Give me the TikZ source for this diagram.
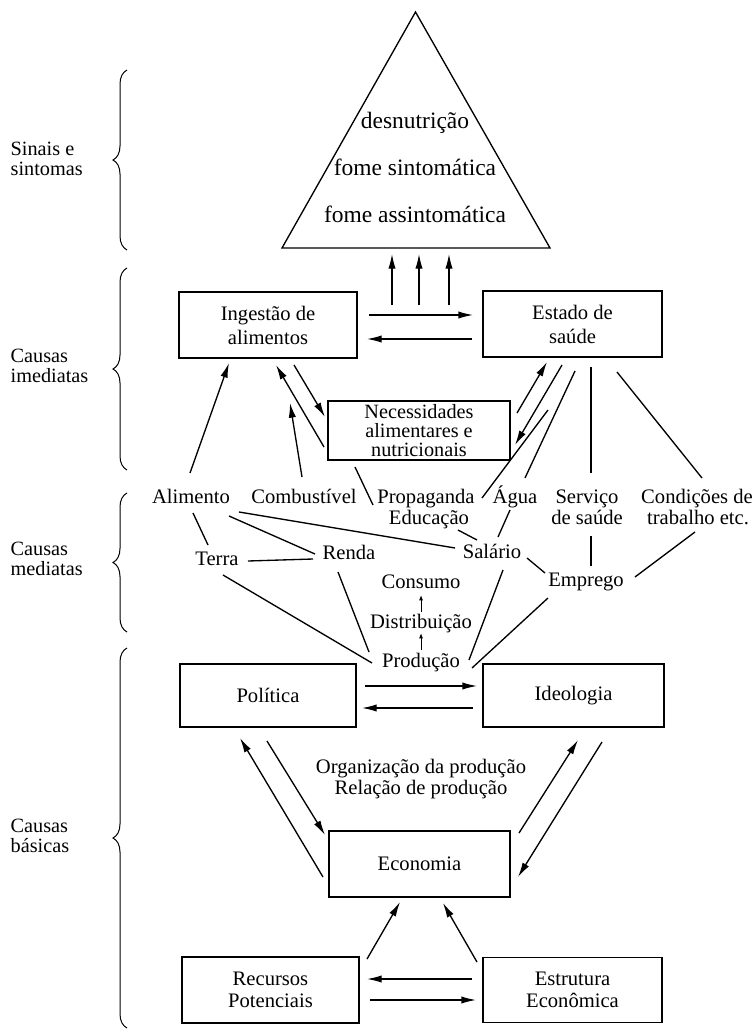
\documentclass[tikz,border=0pt]{standalone}
\usepackage{fontspec}
\setmainfont{Liberation Serif}
\usetikzlibrary{arrows.meta,decorations.pathreplacing}
\newcommand{\tightlines}{\lineskiplimit=-100pt\relax}

\begin{document}
\begin{tikzpicture}[x=0.75pt,y=-0.75pt,
  line width=1pt,
  box/.style={draw, line width=1pt, align=center, inner sep=0pt,
    font=\fontsize{15.45}{18}\selectfont},
  lbl/.style={anchor=base, inner sep=0pt, font=\fontsize{15.45}{18}\selectfont},
  tritext/.style={anchor=base, inner sep=0pt, font=\fontsize{17.6}{20}\selectfont},
  side/.style={anchor=base west, inner sep=0pt, font=\fontsize{15.2}{18}\selectfont},
  arr/.style={-{Latex[length=11pt,width=5.5pt]}},
  tinyarr/.style={-{Latex[length=4pt,width=3pt]}, line width=0.75pt},
  curly/.style={decorate, decoration={brace, amplitude=10.5pt}, line width=0.75pt},
]
\useasboundingbox (0,0) rectangle (755,1032);

% ---- level labels and braces
\node[side] (s1a) at (10,155) {Sinais e};
\node[side] (s1b) at (10,175) {sintomas};
\node[side] (s2a) at (10,362) {Causas};
\node[side] (s2b) at (10,382) {imediatas};
\node[side] (s3a) at (10,555.5) {Causas};
\node[side] (s3b) at (10,575.5) {mediatas};
\node[side] (s4a) at (10,832) {Causas};
\node[side] (s4b) at (10,852) {básicas};

\draw[curly] (127,250) -- (127,70);
\draw[curly] (127,470) -- (127,268);
\draw[curly] (127,632) -- (127,493);
\draw[curly] (127,1028) -- (127,648);

% ---- triangle of signs and symptoms
\coordinate (apex) at (415.5,12);
\coordinate (bl) at (282,248);
\coordinate (br) at (550,248);
\coordinate (tb) at (415.5,248);
\draw[line width=1pt] (apex) -- (br) -- (bl) -- cycle;
\node[tritext] (des) at (415,128.5) {desnutrição};
\node[tritext] (fs) at (415,175.5) {fome sintomática};
\node[tritext] (fa) at (415,222.5) {fome assintomática};

\draw[arr] ([shift={(-23.5,57)}]tb) -- ([shift={(-23.5,6)}]tb);
\draw[arr] ([shift={(3.5,57)}]tb) -- ([shift={(3.5,6)}]tb);
\draw[arr] ([shift={(33.5,57)}]tb) -- ([shift={(33.5,6)}]tb);

% ---- immediate causes
\node[box, minimum width=133.5pt, minimum height=49.5pt] (ing) at (268,325) {Ingestão de\\alimentos};
\node[box, minimum width=134.25pt, minimum height=49.5pt] (est) at (572.5,324) {Estado de\\saúde};
\node[box, font=\fontsize{15.2}{14}\selectfont\tightlines,
  minimum width=136.5pt, minimum height=44.25pt] (nec) at (419,430.5)
  {Necessidades\\alimentares e\\nutricionais};

\draw[arr] ([shift={(101,-10)}]ing.center) -- ([shift={(-99.5,-9)}]est.center);
\draw[arr] ([shift={(-100.5,15)}]est.center) -- ([shift={(99,14)}]ing.center);

% ---- mediate causes
\node[lbl] (alim) at (191,503) {Alimento};
\node[lbl] (comb) at (304,503) {Combustível};
\node[lbl] (prop) at (426,503) {Propaganda};
\node[lbl] (educ) at (429,524.5) {Educação};
\node[lbl] (agua) at (515,503) {Água};
\node[lbl] (serv) at (587,503) {Serviço};
\node[lbl] (desa) at (587,524.5) {de saúde};
\node[lbl] (cond) at (697,503) {Condições de};
\node[lbl] (trab) at (698,524.5) {trabalho etc.};
\node[lbl] (terra) at (217,565.5) {Terra};
\node[lbl] (renda) at (349,559.5) {Renda};
\node[lbl] (sal) at (492,558.5) {Salário};
\node[lbl] (emp) at (586,586.5) {Emprego};
\node[lbl] (cons) at (421,588.5) {Consumo};
\node[lbl] (dist) at (421,628.5) {Distribuição};
\node[lbl] (prod) at (421,667.5) {Produção};

% links into the immediate causes
\draw[arr] ([shift={(26,40)}]ing.center) -- ([shift={(-94,-13.5)}]nec.center);
\draw[arr] ([shift={(-95,16.5)}]nec.center) -- ([shift={(8,40)}]ing.center);
\draw[arr] ([shift={(-2,-26)}]comb.base) -- ([shift={(22,78)}]ing.center);
\draw[arr] ([shift={(-1,-30)}]alim.base) -- ([shift={(-39,38)}]ing.center);
\draw[arr] ([shift={(98,-17.5)}]nec.center) -- ([shift={(-25.5,38)}]est.center);
\draw[arr] ([shift={(-10.5,41)}]est.center) -- ([shift={(96,14.5)}]nec.center);
\draw ([shift={(2.5,47)}]est.center) -- ([shift={(10,-25)}]agua.base);
\draw ([shift={(129,-20.5)}]nec.center) -- ([shift={(56,-5)}]prop.base);
\draw ([shift={(18.5,43)}]est.center) -- ([shift={(4,-30)}]serv.base);
\draw ([shift={(44.5,48)}]est.center) -- ([shift={(5,-25)}]cond.base);
\draw ([shift={(-64,36.5)}]nec.center) -- ([shift={(-53,2)}]prop.base);

% links among the mediate causes
\draw ([shift={(2,10)}]alim.base) -- ([shift={(-9,-20.5)}]terra.base);
\draw ([shift={(31,-4.5)}]terra.base) -- ([shift={(-36,-0.5)}]renda.base);
\draw ([shift={(38,13)}]alim.base) -- ([shift={(-34,-5.5)}]renda.base);
\draw ([shift={(48,9)}]alim.base) -- ([shift={(-37,-10.5)}]sal.base);
\draw ([shift={(6,9.5)}]terra.base) -- ([shift={(-49,-4.5)}]prod.base);
\draw ([shift={(-11,12.5)}]renda.base) -- ([shift={(-52,-15.5)}]prod.base);
\draw ([shift={(29,5.5)}]educ.base) -- ([shift={(-15,-18.5)}]sal.base);
\draw ([shift={(-5,7)}]agua.base) -- ([shift={(6,-21.5)}]sal.base);
\draw ([shift={(35,-0.5)}]sal.base) -- ([shift={(-41,-13.5)}]emp.base);
\draw ([shift={(11,11.5)}]sal.base) -- ([shift={(48,-7.5)}]prod.base);
\draw ([shift={(-38,11.5)}]emp.base) -- ([shift={(51,0.5)}]prod.base);
\draw ([shift={(4,11.5)}]desa.base) -- ([shift={(5,-20.5)}]emp.base);
\draw ([shift={(-3,7.5)}]trab.base) -- ([shift={(49,-9.5)}]emp.base);
\draw[tinyarr] ([shift={(0,-17.5)}]prod.base) -- ([shift={(0,4.5)}]dist.base);
\draw[tinyarr] ([shift={(0,-16.5)}]dist.base) -- ([shift={(0,6.5)}]cons.base);

% ---- basic causes
\node[box, minimum width=132pt, minimum height=47.25pt] (pol) at (268,695.5) {Política};
\node[box, minimum width=135.75pt, minimum height=47.25pt] (ideo) at (573.5,695.5) {Ideologia};
\node[box, minimum width=135.75pt, minimum height=49.5pt] (eco) at (419.5,864) {Economia};
\node[box, font=\fontsize{15.45}{16}\selectfont, minimum width=132.75pt, minimum height=49.5pt] (rec) at (270.5,990) {Recursos\\Potenciais};
\node[box, font=\fontsize{15.45}{16}\selectfont, minimum width=134.25pt, minimum height=48.75pt] (estr) at (572.5,990) {Estrutura\\Econômica};
\node[lbl] (org) at (421,773.5) {Organização da produção};
\node[lbl] (rel) at (421,794.5) {Relação de produção};

\draw[arr] ([shift={(97,-9.5)}]pol.center) -- ([shift={(-96.5,-9.5)}]ideo.center);
\draw[arr] ([shift={(-100.5,12.5)}]ideo.center) -- ([shift={(94,12.5)}]pol.center);
\draw[arr] ([shift={(-96.5,13)}]eco.center) -- ([shift={(-28,42.5)}]pol.center);
\draw[arr] ([shift={(-1,45.5)}]pol.center) -- ([shift={(-94.5,-29)}]eco.center);
\draw[arr] ([shift={(99.5,-31)}]eco.center) -- ([shift={(4.5,44.5)}]ideo.center);
\draw[arr] ([shift={(28.5,46.5)}]ideo.center) -- ([shift={(98.5,13)}]eco.center);
\draw[arr] ([shift={(96.5,-31)}]rec.center) -- ([shift={(-19.5,38)}]eco.center);
\draw[arr] ([shift={(-95.5,-28)}]estr.center) -- ([shift={(23.5,39)}]eco.center);
\draw[arr] ([shift={(-100.5,-11)}]estr.center) -- ([shift={(96.5,-11)}]rec.center);
\draw[arr] ([shift={(99.5,10)}]rec.center) -- ([shift={(-96.5,10)}]estr.center);
\end{tikzpicture}
\end{document}
